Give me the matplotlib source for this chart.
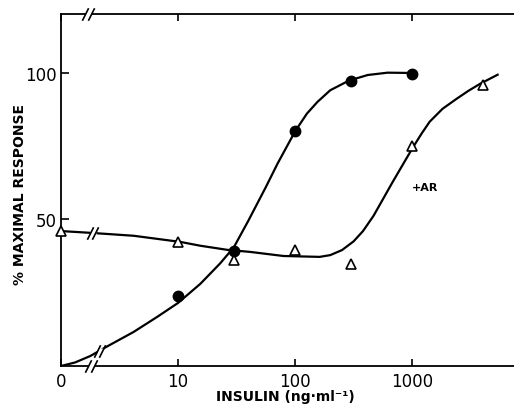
import numpy as np
import matplotlib.pyplot as plt
from matplotlib.transforms import blended_transform_factory

# insulin concentration (ng/ml); 0 is drawn one decade below 10 (broken axis)
# control (filled circles)
ctrl_x = [10, 30, 100, 300, 1000]
ctrl_y = [23.9, 39.2, 80.2, 97.3, 99.7]

# +AR (open triangles)
ar_x = [0, 10, 30, 100, 300, 1000, 4000]
ar_y = [46.0, 42.3, 36.2, 39.6, 34.8, 75.1, 95.9]

# hand-drawn curves (x in log10 units, 0 = the "0" position)
ctrl_curve_p = [0.0, 0.12, 0.25, 0.40, 0.62, 0.82, 1.0, 1.19, 1.36, 1.477, 1.6,
                1.75, 1.85, 2.0, 2.1, 2.19, 2.3, 2.46, 2.62, 2.79, 2.99]
ctrl_curve_y = [0.0, 1.2, 3.4, 6.8, 11.6, 16.7, 21.5, 28.0, 35.0, 40.5, 49.5,
                61.0, 69.0, 80.0, 86.0, 90.0, 94.0, 97.3, 99.2, 100.0, 99.9]
ar_curve_p = [0.0, 0.25, 0.62, 1.02, 1.19, 1.42, 1.615, 1.90, 2.21, 2.30, 2.40, 2.50,
              2.58, 2.67, 2.83, 3.0, 3.08, 3.15, 3.26, 3.38, 3.48, 3.58, 3.73]
ar_curve_y = [46.0, 45.4, 44.4, 42.3, 41.0, 39.6, 38.9, 37.5, 37.2, 37.8, 39.5, 42.5,
              46.0, 51.2, 62.5, 74.1, 79.2, 83.3, 87.7, 91.1, 93.8, 96.2, 99.3]

xticks = [0, 10, 100, 1000]
xticklabels = ['0', '10', '100', '1000']
yticks = [50, 100]


def pos(x):
    # 0 sits one decade below 10 on the log axis
    x = np.asarray(x, dtype=float)
    return np.where(x == 0, 1.0, x)


fig = plt.figure(figsize=(5.14, 4.10), dpi=100)
ax = fig.add_axes([0.1187, 0.1049, 0.8813, 0.8585])
ax.set_xscale('log')
ax.set_xlim(1, 10 ** 3.87)
ax.set_ylim(0, 120)

lw = 1.6
ax.plot(10 ** np.array(ctrl_curve_p), ctrl_curve_y, color='k', lw=lw, zorder=2,
        solid_joinstyle='round')
ax.plot(10 ** np.array(ar_curve_p), ar_curve_y, color='k', lw=lw, zorder=2,
        solid_joinstyle='round')
ax.plot(pos(ctrl_x), ctrl_y, 'o', color='k', ms=7.5, zorder=3, clip_on=False)
ax.plot(pos(ar_x), ar_y, '^', mfc='white', mec='k', mew=1.2, ms=7.5, zorder=3,
        clip_on=False)


# break marks "//" on the axes and the curves
def brk(p, y, trans):
    ax.plot([10 ** p], [y], 's', ms=4, mfc='white', mec='none', transform=trans,
            clip_on=False, zorder=5)
    for dp in (-0.022, 0.022):
        ax.plot([10 ** (p + dp)], [y], marker=[(-1, -2), (1, 2)], ms=9, color='k',
                mew=1.2, transform=trans, clip_on=False, zorder=6)


bt = blended_transform_factory(ax.transData, ax.transAxes)
brk(0.256, 0.0, bt)
brk(0.23, 1.0, bt)
brk(0.33, 5.1, ax.transData)
brk(0.27, 45.3, ax.transData)

ax.text(10 ** 3.0, 61, '+AR', fontsize=8, fontweight='bold', ha='left', va='center')

ax.spines['right'].set_visible(False)
for s in ['left', 'bottom', 'top']:
    ax.spines[s].set_linewidth(1.3)

ax.set_xticks(pos(xticks))
ax.set_xticklabels(xticklabels)
ax.xaxis.set_minor_locator(plt.NullLocator())
ax.tick_params(axis='x', which='major', direction='in', length=5, width=1.2,
               top=True, labelsize=12, pad=4)
ax.set_yticks(yticks)
ax.set_yticklabels([str(v) for v in yticks])
ax.tick_params(axis='y', direction='in', length=6, width=1.2, labelsize=12, pad=3)

ax.set_xlabel('INSULIN (ng·ml⁻¹)', fontsize=10, fontweight='bold')
ax.xaxis.set_label_coords(0.495, -0.066)
ax.set_ylabel('% MAXIMAL RESPONSE', fontsize=10, fontweight='bold')
ax.yaxis.set_label_coords(-0.074, 0.49)

plt.savefig('out.png', dpi=100)
